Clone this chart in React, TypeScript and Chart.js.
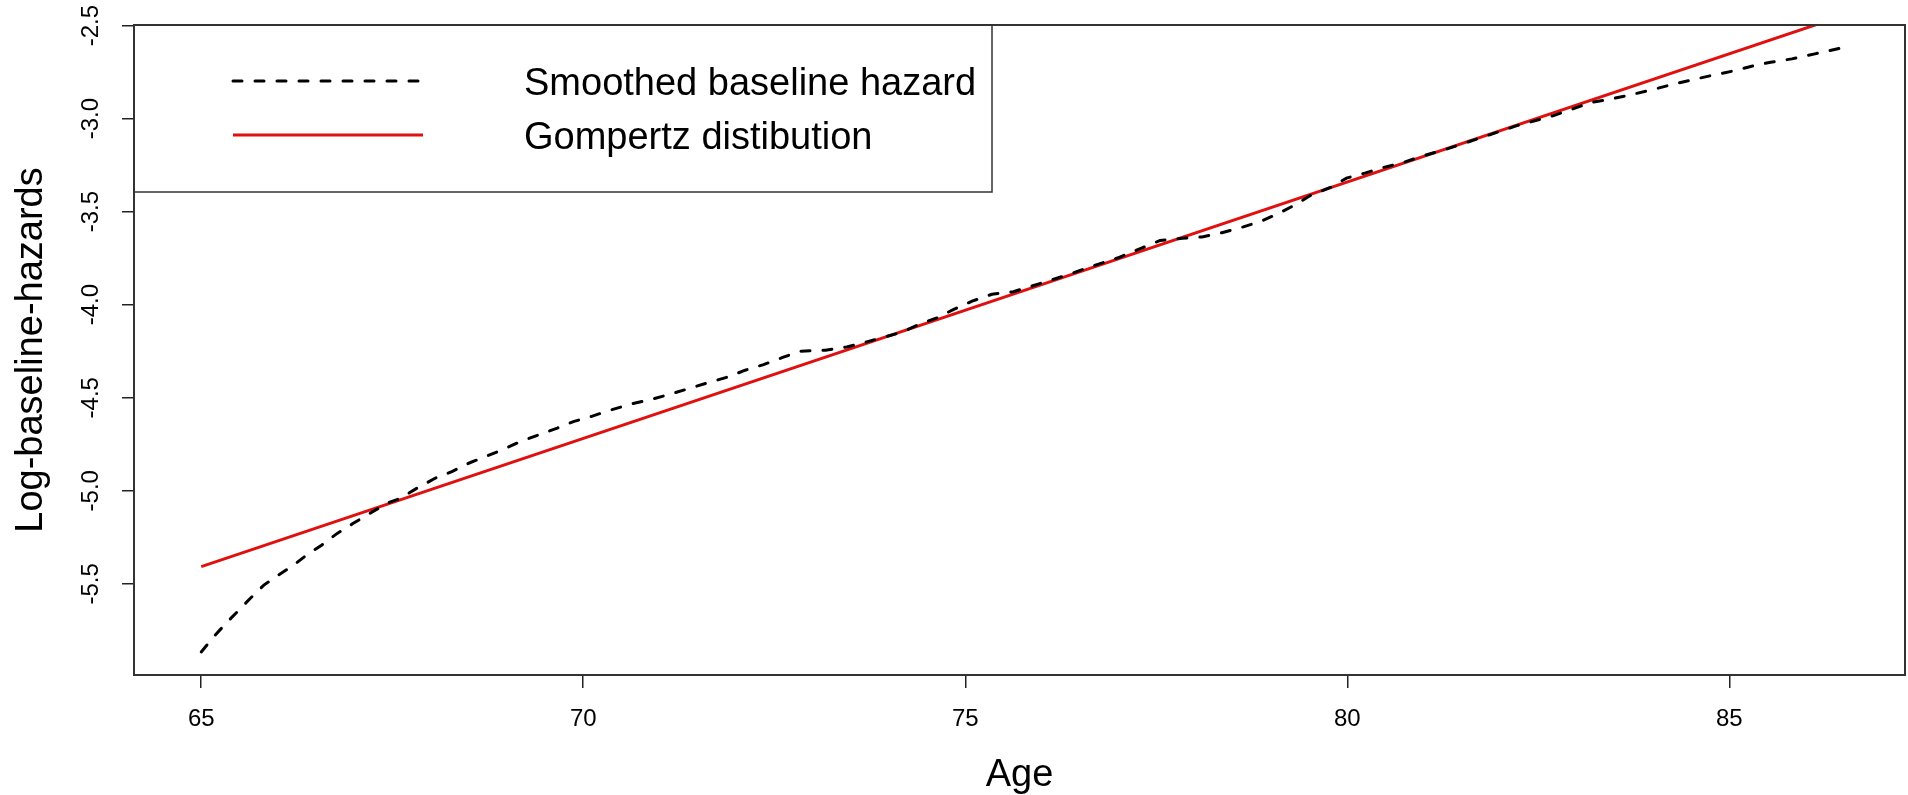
import { useEffect, useRef } from 'react';
import { Chart, registerables } from 'chart.js';

Chart.register(...registerables);

// ---- data ----
const smoothAge = [
  65.0, 65.16, 65.32, 65.47, 65.64, 65.82, 66.01, 66.21, 66.38, 66.58, 66.78, 66.99,
  67.21, 67.43, 67.61, 67.82, 68.06, 68.28, 68.5, 68.72, 68.94, 69.18, 69.42, 69.66,
  69.88, 70.11, 70.33, 70.62, 70.88, 71.12, 71.38, 71.62, 71.88, 72.12, 72.36, 72.62,
  72.84, 73.17, 73.45, 73.71, 73.93, 74.17, 74.41, 74.63, 74.85, 75.09, 75.35, 75.63,
  76.11, 76.37, 76.61, 77.0, 77.29, 77.55, 77.84, 78.1, 78.36, 78.64, 78.88, 79.1,
  79.32, 79.51, 79.78, 79.99, 80.23, 80.48, 80.74, 81.0, 81.26, 81.74, 82.22, 82.7,
  83.2, 83.46, 83.72, 83.99, 84.25, 84.51, 84.77, 85.04, 85.28, 85.54, 85.82, 86.12,
  86.45,
];
const smoothLogHazard = [
  -5.866, -5.786, -5.714, -5.651, -5.579, -5.507, -5.453, -5.399, -5.345, -5.291, -5.229, -5.175,
  -5.121, -5.067, -5.04, -4.987, -4.933, -4.897, -4.852, -4.816, -4.78, -4.735, -4.699, -4.663,
  -4.627, -4.6, -4.57, -4.534, -4.51, -4.483, -4.451, -4.421, -4.39, -4.352, -4.322, -4.282,
  -4.25, -4.245, -4.227, -4.2, -4.175, -4.148, -4.103, -4.071, -4.025, -3.981, -3.944, -3.93,
  -3.87, -3.835, -3.8, -3.748, -3.699, -3.655, -3.643, -3.636, -3.613, -3.582, -3.55, -3.51,
  -3.463, -3.415, -3.37, -3.32, -3.293, -3.262, -3.235, -3.199, -3.169, -3.104, -3.038, -2.984,
  -2.912, -2.894, -2.871, -2.845, -2.817, -2.792, -2.768, -2.745, -2.72, -2.697, -2.679, -2.652,
  -2.622,
];
const gompertzAge = [65.0, 86.45];
const gompertzLogHazard = [-5.408, -2.452];

const xTickValues = [65, 70, 75, 80, 85];
const yTickValues = [-5.5, -5.0, -4.5, -4.0, -3.5, -3.0, -2.5];
const seriesLabels = ['Smoothed baseline hazard', 'Gompertz distibution'];
const xTitle = 'Age';
const yTitle = 'Log-baseline-hazards';

const FONT = '"Liberation Sans", Arial, Helvetica, sans-serif';

const rStylePlugin = {
  id: 'rStyle',
  afterDraw(chart: any) {
    const ctx: CanvasRenderingContext2D = chart.ctx;
    const { left, top, right, bottom } = chart.chartArea;
    ctx.save();
    // plot box
    ctx.strokeStyle = '#333';
    ctx.lineWidth = 2;
    ctx.setLineDash([]);
    ctx.strokeRect(left, top, right - left, bottom - top);

    // rotated y tick labels (R style, las = 0)
    const ys = chart.scales.y;
    ctx.fillStyle = '#000';
    ctx.font = `24px ${FONT}`;
    ctx.textAlign = 'center';
    ctx.textBaseline = 'middle';
    ys.ticks.forEach((t: any) => {
      const py = ys.getPixelForValue(t.value);
      ctx.save();
      ctx.translate(left - 43, py);
      ctx.rotate(-Math.PI / 2);
      ctx.fillText(Number(t.value).toFixed(1), 0, 0);
      ctx.restore();
    });

    // legend box
    const lx0 = left;
    const ly0 = top;
    const lx1 = left + 858;
    const ly1 = top + 167;
    ctx.strokeStyle = '#333';
    ctx.lineWidth = 1.5;
    ctx.strokeRect(lx0, ly0, lx1 - lx0, ly1 - ly0);
    const rowY = [top + 56, top + 110];
    chart.data.datasets.forEach((ds: any, i: number) => {
      const y = rowY[i];
      ctx.beginPath();
      ctx.strokeStyle = ds.borderColor;
      ctx.lineWidth = ds.borderWidth;
      ctx.lineCap = ds.borderCapStyle || 'butt';
      ctx.setLineDash(ds.borderDash || []);
      ctx.moveTo(left + 99, y);
      ctx.lineTo(left + 289, y);
      ctx.stroke();
      ctx.setLineDash([]);
      ctx.fillStyle = '#000';
      ctx.font = `38px ${FONT}`;
      ctx.textAlign = 'left';
      ctx.textBaseline = 'middle';
      ctx.fillText(ds.label, left + 390, y + 4);
    });
    ctx.restore();
  },
};

export default function App() {
  const canvasRef = useRef<HTMLCanvasElement | null>(null);

  useEffect(() => {
    if (!canvasRef.current) return;
    Chart.defaults.font.family = FONT;
    const chart = new Chart(canvasRef.current, {
      type: 'line',
      data: {
        datasets: [
          {
            label: seriesLabels[0],
            data: smoothAge.map((a, i) => ({ x: a, y: smoothLogHazard[i] })),
            borderColor: '#000000',
            borderWidth: 3,
            borderDash: [9, 13],
            borderCapStyle: 'round',
            pointRadius: 0,
            fill: false,
            tension: 0,
            clip: 0,
          },
          {
            label: seriesLabels[1],
            data: gompertzAge.map((a, i) => ({ x: a, y: gompertzLogHazard[i] })),
            borderColor: '#e01010',
            borderWidth: 3,
            pointRadius: 0,
            fill: false,
            tension: 0,
            clip: 0,
          },
        ],
      },
      options: {
        animation: false,
        responsive: false,
        events: [],
        layout: { padding: { top: 25, right: 3, bottom: 0, left: 0 } },
        plugins: {
          legend: { display: false },
          tooltip: { enabled: false },
        },
        scales: {
          x: {
            type: 'linear',
            min: 64.12,
            max: 87.3,
            afterBuildTicks: (scale: any) => {
              scale.ticks = xTickValues.map((v) => ({ value: v }));
            },
            afterFit: (scale: any) => {
              scale.height = 120;
            },
            grid: {
              display: true,
              drawOnChartArea: false,
              drawTicks: true,
              tickLength: 13,
              color: '#222',
              lineWidth: 1.5,
            },
            border: { display: false },
            ticks: {
              color: '#000',
              font: { size: 24, family: FONT },
              padding: 17,
              maxRotation: 0,
              autoSkip: false,
            },
            title: {
              display: true,
              text: xTitle,
              color: '#000',
              font: { size: 38, family: FONT, lineHeight: 1 },
              padding: { top: 0, bottom: 0 },
            },
          },
          y: {
            type: 'linear',
            min: -5.99,
            max: -2.497,
            afterBuildTicks: (scale: any) => {
              scale.ticks = yTickValues.map((v) => ({ value: v }));
            },
            afterFit: (scale: any) => {
              scale.width = 134;
            },
            grid: {
              display: true,
              drawOnChartArea: false,
              drawTicks: true,
              tickLength: 12,
              color: '#222',
              lineWidth: 1.5,
            },
            border: { display: false },
            ticks: { display: false },
            title: {
              display: true,
              text: yTitle,
              color: '#000',
              font: { size: 38, family: FONT, lineHeight: 1 },
              padding: { top: 13, bottom: 0 },
            },
          },
        },
      },
      plugins: [rStylePlugin],
    } as any);
    return () => chart.destroy();
  }, []);

  return (
    <div style={{ position: 'absolute', left: 0, top: 0, width: '1908px', height: '795px', background: '#fff' }}>
      <canvas ref={canvasRef} width={1908} height={795} style={{ display: 'block', width: '1908px', height: '795px' }} />
    </div>
  );
}
